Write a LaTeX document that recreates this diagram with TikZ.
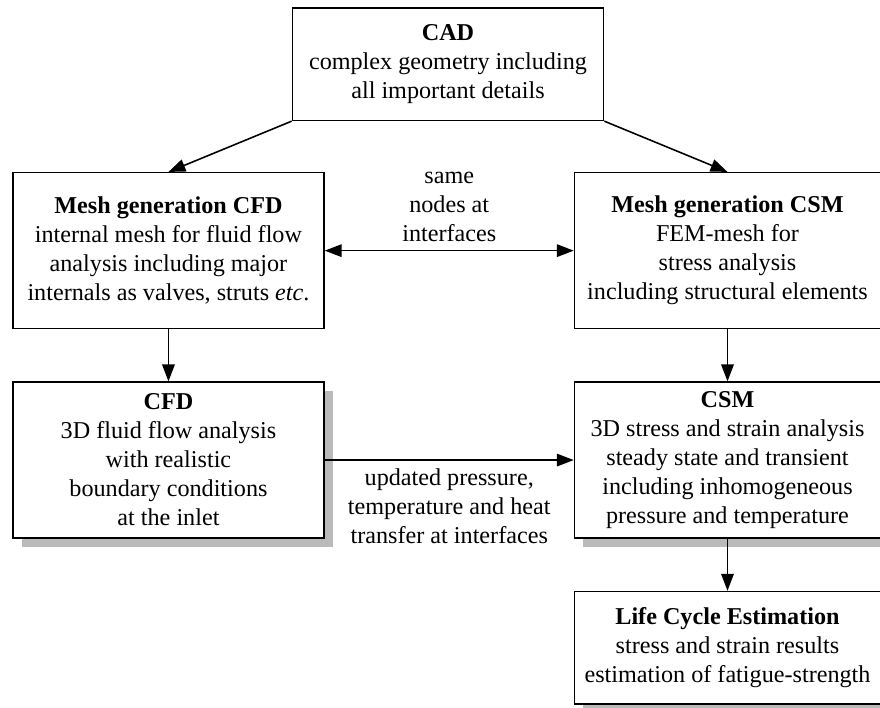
\documentclass[tikz,border=0pt]{standalone}
\usepackage{fontspec}
\setmainfont{Liberation Serif}
\usepackage{tikz}
\usetikzlibrary{
    arrows.meta,
    positioning,
    shadows,
    calc
}
\tikzset{
    box/.style={
        rectangle,
        draw=black,
        fill=white,
        line width=0.65pt,
        align=center,
        inner sep=2pt,
        font=\normalsize
    },
    bigbox/.style={
        box,
        minimum height=64.5pt
    },
    smallbox/.style={
        box,
        minimum height=46.5pt
    },
    leftcol/.style={
        minimum width=128.7pt
    },
    rightcol/.style={
        minimum width=126.6pt
    },
    shadowed/.style={
        drop shadow={shadow xshift=3.6pt, shadow yshift=-3.8pt, fill=black!27, opacity=1}
    },
    arrow/.style={
        -{Triangle[length=7pt,width=5.2pt]},
        line width=0.65pt
    },
    twoarrow/.style={
        {Triangle[length=7pt,width=5.2pt]}-{Triangle[length=7pt,width=5.2pt]},
        line width=0.65pt
    }
}

\begin{document}
\begin{tikzpicture}[node distance=21.5pt]
\useasboundingbox (0,0) rectangle (364.1pt,-292.6pt);

\node[bigbox, leftcol] (meshcfd) at (69.7pt,-103.7pt) {\textbf{Mesh generation CFD}\\ internal mesh for fluid flow\\ analysis including major\\ internals as valves, struts \textit{etc}.};
\node[bigbox, rightcol, right=103pt of meshcfd] (meshcsm) {\textbf{Mesh generation CSM}\\ FEM-mesh for\\ stress analysis\\ including structural elements};
\coordinate (top) at ($(meshcfd.north)!0.5!(meshcsm.north)$);
\node[smallbox, leftcol, above=21pt of top] (cad) {\textbf{CAD}\\ complex geometry including\\ all important details};
\node[bigbox, leftcol, shadowed, below=of meshcfd] (cfd) {\textbf{CFD}\\ 3D fluid flow analysis\\ with realistic\\ boundary conditions\\ at the inlet};
\node[bigbox, rightcol, shadowed, below=of meshcsm] (csm) {\textbf{CSM}\\ 3D stress and strain analysis\\ steady state and transient\\ including inhomogeneous\\ pressure and temperature};
\node[smallbox, rightcol, shadowed, below=of csm] (life) {\textbf{Life Cycle Estimation}\\ stress and strain results\\ estimation of fatigue-strength};

\draw[arrow] (cad.south west) -- (meshcfd.north);
\draw[arrow] (cad.south east) -- (meshcsm.north);
\draw[twoarrow] (meshcfd) -- (meshcsm)
    node[midway, above, align=center] (samelbl) {same\\ nodes at\\ interfaces};
\draw[arrow] (meshcfd) -- (cfd);
\draw[arrow] (meshcsm) -- (csm);
\draw[arrow] (cfd) -- (csm)
    node[midway, below, align=center] (updlbl) {updated pressure,\\ temperature and heat\\ transfer at interfaces};
\draw[arrow] (csm) -- (life);
\end{tikzpicture}
\end{document}
